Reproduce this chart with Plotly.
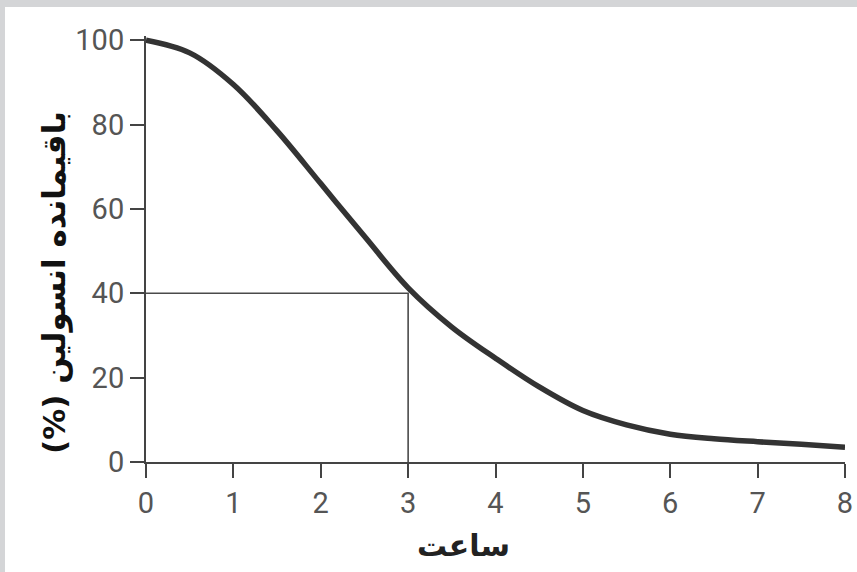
import plotly.graph_objects as go

# Insulin remaining over time
hours = [0, 0.5, 1, 1.5, 2, 2.5, 3, 3.5, 4, 4.5, 5, 5.5, 6, 6.5, 7, 7.5, 8]
remaining = [100, 97, 89.5, 78.5, 66, 53.5, 41.3, 32, 24.6, 17.8, 12.2, 8.8, 6.6, 5.5, 4.8, 4.2, 3.5]

# marker for the 3 hour / 40 % reading
ref_x = [0, 3, 3]
ref_y = [40, 40, 0]

x_ticks = [0, 1, 2, 3, 4, 5, 6, 7, 8]
y_ticks = [0, 20, 40, 60, 80, 100]

x_title = "ساعت"
y_title = "(%) باقیمانده انسولین"   # "(%)" first so it lands at the bottom once rotated

W, H = 857, 572
ML, MR, MT, MB = 146, 12, 36, 110
pw, ph = W - ML - MR, H - MT - MB

fig = go.Figure()

fig.add_trace(go.Scatter(x=ref_x, y=ref_y, mode="lines",
                         line=dict(color="#4a4a4a", width=1.6),
                         hoverinfo="skip", showlegend=False))
fig.add_trace(go.Scatter(x=hours, y=remaining, mode="lines",
                         line=dict(color="#333333", width=5.5, shape="spline", smoothing=1.0),
                         showlegend=False))

tick_font = dict(family="Roboto, Liberation Sans", size=29, color="#555555")

fig.update_xaxes(range=[0, 8], tickvals=x_ticks, ticks="outside", ticklen=14,
                 tickwidth=2, tickcolor="#444444", showline=True, linecolor="#444444",
                 linewidth=2, showgrid=False, zeroline=False, tickfont=tick_font,
                 automargin=False)
fig.update_yaxes(range=[0, 101], tickvals=y_ticks, ticks="outside", ticklen=14,
                 tickwidth=2, tickcolor="#444444", showline=True, linecolor="#444444",
                 linewidth=2, showgrid=False, zeroline=False, tickfont=tick_font,
                 automargin=False)

# axis titles placed as annotations so they sit where the reference has them
fig.add_annotation(text="<b>" + x_title + "</b>", xref="paper", yref="paper",
                   x=(463 - ML) / pw, y=-(545 - (H - MB)) / ph,
                   xanchor="center", yanchor="middle", showarrow=False,
                   font=dict(family="DejaVu Sans", size=30, color="#222222"))
fig.add_annotation(text="<b>" + y_title + "</b>", xref="paper", yref="paper",
                   x=(54 - ML) / pw, y=((H - MB) - 282) / ph, textangle=-90,
                   xanchor="center", yanchor="middle", showarrow=False,
                   font=dict(family="DejaVu Sans", size=31, color="#111111"))

# light grey frame along the top and left edge of the picture
gray = "#d4d5d7"
fig.add_shape(type="rect", xref="paper", yref="paper", layer="below",
              x0=-ML / pw, x1=1 + MR / pw, y0=1 + (MT - 7) / ph, y1=1 + MT / ph,
              fillcolor=gray, line=dict(width=0))
fig.add_shape(type="rect", xref="paper", yref="paper", layer="below",
              x0=-ML / pw, x1=-(ML - 5) / pw, y0=-MB / ph, y1=1 + MT / ph,
              fillcolor=gray, line=dict(width=0))

fig.update_layout(width=W, height=H, margin=dict(l=ML, r=MR, t=MT, b=MB),
                  paper_bgcolor="white", plot_bgcolor="white")

# drop the browser's default body margin so the figure starts at the window corner
fig.write_html("out.html", config={"displayModeBar": False},
               post_script="document.body.style.margin = '0px';")
